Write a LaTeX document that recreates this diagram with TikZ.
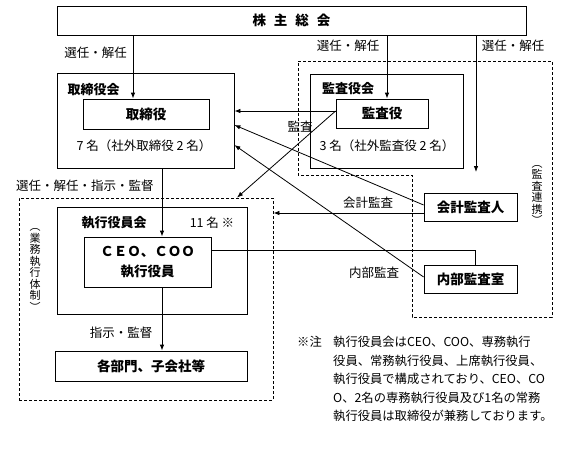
\documentclass[tikz,border=0pt]{standalone}
\usepackage{fontspec}
\setmainfont{Noto Sans CJK JP}
\usetikzlibrary{arrows.meta}

\begin{document}
\begin{tikzpicture}[x=1pt,y=-1pt]
\tikzstyle{box}=[draw,line width=0.8pt,inner sep=0pt,font=\fontsize{13.5}{15}\selectfont\bfseries]
\tikzstyle{head}=[inner sep=0pt,font=\fontsize{13}{15}\selectfont\bfseries]
\tikzstyle{lbl}=[inner sep=0pt,font=\fontsize{12.5}{14}\selectfont]
\tikzstyle{vlbl}=[inner sep=0pt,align=center,font=\fontsize{11}{11.5}\selectfont]
\tikzstyle{frame}=[draw,line width=0.8pt,dash pattern=on 3pt off 2pt]
\tikzstyle{arr}=[line width=0.8pt,-{Latex[length=6pt,width=4.5pt]}]
\useasboundingbox (0,0) rectangle (563,453);

% boxes
\path (291.5,20.5) node[box,minimum width=469pt,minimum height=29pt](agm){株\hspace{8pt}主\hspace{8pt}総\hspace{8pt}会};
\path (145.5,120.5) node[box,minimum width=177pt,minimum height=95pt](board){};
\path (146,114) node[box,minimum width=126pt,minimum height=30pt](dir){取締役};
\path (386.5,121) node[box,minimum width=153pt,minimum height=94pt](kab){};
\path (382,113.5) node[box,minimum width=92pt,minimum height=29pt](aud){監査役};
\path (470.5,207) node[box,minimum width=93pt,minimum height=28pt](acct){会計監査人};
\path (470.5,279) node[box,minimum width=93pt,minimum height=28pt](intl){内部監査室};
\path (146,299) node[frame,minimum width=254pt,minimum height=202pt](exec){};
\path (152,260.5) node[box,minimum width=190pt,minimum height=107pt](offc){};
\path (147.5,262) node[box,minimum width=127pt,minimum height=50pt,align=center](ceo){ＣＥＯ、ＣＯＯ\\[5pt]執行役員};
\path (151,366) node[box,minimum width=192pt,minimum height=30pt](dept){各部門、子会社等};
\draw[frame] (298,61) -- (552,61) -- (552,317) -- (412,317) -- (412,175) -- (298,175) -- cycle;

% texts in the boxes
\path (93.5,90) node[head](hboard){取締役会};
\path (348,89) node[head](hkab){監査役会};
\path (114,223) node[head](hoffc){執行役員会};
\path (144,146) node[lbl](nboard){7 名（社外取締役 2 名）};
\path (387,146) node[lbl](nkab){3 名（社外監査役 2 名）};
\path (212,223) node[lbl](noffc){11 名 ※};
\path (35,270) node[vlbl](vexec){︵\\業\\務\\執\\行\\体\\制\\︶};
\path (537,195) node[vlbl](vaud){︵\\監\\査\\連\\携\\︶};

% arrows
\coordinate (xa) at (133,0);
\coordinate (xb) at (387,0);
\coordinate (xc) at (476,0);
\coordinate (xd) at (162,0);
\coordinate (xe) at (237,0);
\coordinate (xf) at (475,0);
\coordinate (fc) at (476,172);
\coordinate (sa) at ([yshift=2.5pt]aud.west);
\coordinate (sb) at ([yshift=2pt]acct.west);
\coordinate (sc) at ([yshift=-6pt]acct.west);
\coordinate (sd) at ([yshift=2pt]intl.west);
\coordinate (se) at ([yshift=12pt]ceo.east);
\draw[arr] (agm.south -| xa) -- (dir.north -| xa);
\draw[arr] (agm.south -| xb) -- (aud.north -| xb);
\draw[arr] (agm.south -| xc) -- (fc);
\draw[arr] (sa) -- (sa -| board.east);
\draw[arr] (sa) -- (exec.north -| xe);
\draw[arr] (sb) -- ([yshift=-4.5pt]board.east);
\draw[arr] (sd) -- ([yshift=-24.5pt]board.east);
\draw[arr] (sc) -- (sc -| exec.east);
\draw[line width=0.8pt] (se) -- (se -| xf) -- (intl.north -| xf);
\draw[arr] (board.south -| xd) -- (ceo.north -| xd);
\draw[arr] (ceo.south -| xd) -- (dept.north -| xd);

% labels
\path (95.5,53) node[lbl](l1){選任・解任};
\path (348,46) node[lbl](l2){選任・解任};
\path (513,46) node[lbl](l3){選任・解任};
\path (300,127) node[lbl](l4){監査};
\path (85,186) node[lbl](l5){選任・解任・指示・監督};
\path (368,203) node[lbl](l6){会計監査};
\path (374,273) node[lbl](l7){内部監査};
\path (121,333) node[lbl](l8){指示・監督};

% note
\path (297,336) node[anchor=north west,inner sep=0pt,font=\fontsize{12.3}{18.5}\selectfont](nmark){※注};
\path (333,336) node[anchor=north west,inner sep=0pt,align=left,font=\fontsize{12.3}{18.5}\selectfont](note){執行役員会はCEO、COO、専務執行\\役員、常務執行役員、上席執行役員、\\執行役員で構成されており、CEO、CO\\O、2名の専務執行役員及び1名の常務\\執行役員は取締役が兼務しております。};
\end{tikzpicture}
\end{document}
